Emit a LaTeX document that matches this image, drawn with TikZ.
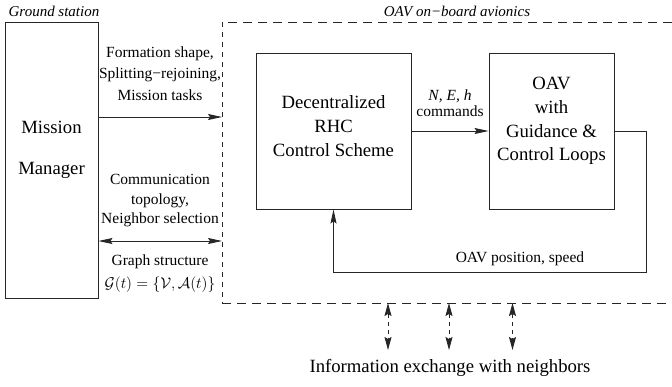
\RequirePackage{fix-cm}
\documentclass[tikz,border=0pt]{standalone}
\usepackage{fontspec}
\setmainfont{Liberation Serif}
\usetikzlibrary{arrows.meta}
\tikzset{
  blk/.style={draw=black!85, line width=0.9pt, rectangle, inner sep=0pt},
  big/.style={font=\fontsize{18.7}{24}\selectfont, align=center, inner sep=0pt},
  lbl/.style={font=\fontsize{15.5}{21.5}\selectfont, align=center, inner sep=0pt},
  ital/.style={font=\fontsize{15}{18}\selectfont\itshape, inner sep=0pt},
  conn/.style={line width=0.9pt, draw=black!85},
  tipA/.tip={Stealth[length=14pt,width=6pt,inset=2pt]},
  tipB/.tip={Stealth[length=13pt,width=7pt,inset=2pt]},
  avbox/.style={line width=0.8pt, draw=black!85},
}
\begin{document}
\begin{tikzpicture}[x=1pt,y=-1pt]
\useasboundingbox (0,0) rectangle (672,386);
% ground station
\node[ital] (gs) at (54,11) {Ground station};
\node[blk, minimum width=93pt, minimum height=276pt] (mm) at (51.5,160) {};
\node[big, font=\fontsize{18.7}{41.5}\selectfont] (mmt) at (51.5,150) {Mission\\Manager};
% on-board dashed frame
\node[ital] (ob) at (457,11) {OAV on−board avionics};
\coordinate (avtl) at (222,22);
\coordinate (avbl) at (222,303);
\draw[avbox, dash pattern=on 9pt off 6pt] (672,22) -- (avtl);
\draw[avbox, dash pattern=on 5pt off 5pt] (avtl) -- (avbl);
\draw[avbox, dash pattern=on 9pt off 6pt] (avbl) -- (672,303);
% blocks
\node[blk, minimum width=155pt, minimum height=156pt] (rhc) at (333.5,131) {};
\node[big] (rhct) at (333.5,126) {Decentralized\\RHC\\Control Scheme};
\node[blk, minimum width=125pt, minimum height=156pt] (oav) at (551.5,131) {};
\node[big, font=\fontsize{18.7}{23.8}\selectfont] (oavt) at (551.5,121) {OAV\\with\\Guidance \&\\Control Loops};
% commands
\draw[conn, -tipA] (rhc.east) -- (oav.west);
\node[lbl, font=\fontsize{15.5}{15.5}\selectfont\itshape] (neh) at (450,96) {N, E, h};
\node[lbl, font=\fontsize{15.5}{15.5}\selectfont] (cmd) at (450,111) {commands};
% feedback
\coordinate (fbr) at (646,272);
\coordinate (fbl) at (333.5,272);
\draw[conn, -tipA] (oav.east) -| (fbr) -- (fbl) -- (rhc.south);
\node[lbl] (pos) at (520,259) {OAV position, speed};
% left arrows
\coordinate (a1) at (222,117);
\draw[conn, -tipA] (mm.east |- a1) -- (a1);
\node[lbl] (l1) at (160,73.5) {Formation shape,\\Splitting−rejoining,\\Mission tasks};
\coordinate (a2) at (222,241);
\draw[conn, tipA-tipA] (mm.east |- a2) -- (a2);
\node[lbl, font=\fontsize{15.5}{19.5}\selectfont] (l2) at (160,201) {Communication\\topology,\\Neighbor selection};
\node[lbl] (l3) at (160,262) {Graph structure};
\node[lbl] (l4) at (160,285) {$\mathcal{G}(t)=\{\mathcal{V},\mathcal{A}(t)\}$};
% info exchange
\foreach \x/\n in {388/e1, 449/e2, 512.5/e3} {
  \coordinate (\n t) at (\x,303);
  \coordinate (\n b) at (\x,350);
  \draw[conn, dash pattern=on 4pt off 4pt, tipB-tipB] (\n t) -- (\n b);
}
\node[big] (info) at (450,368) {Information exchange with neighbors};
\end{tikzpicture}
\end{document}
